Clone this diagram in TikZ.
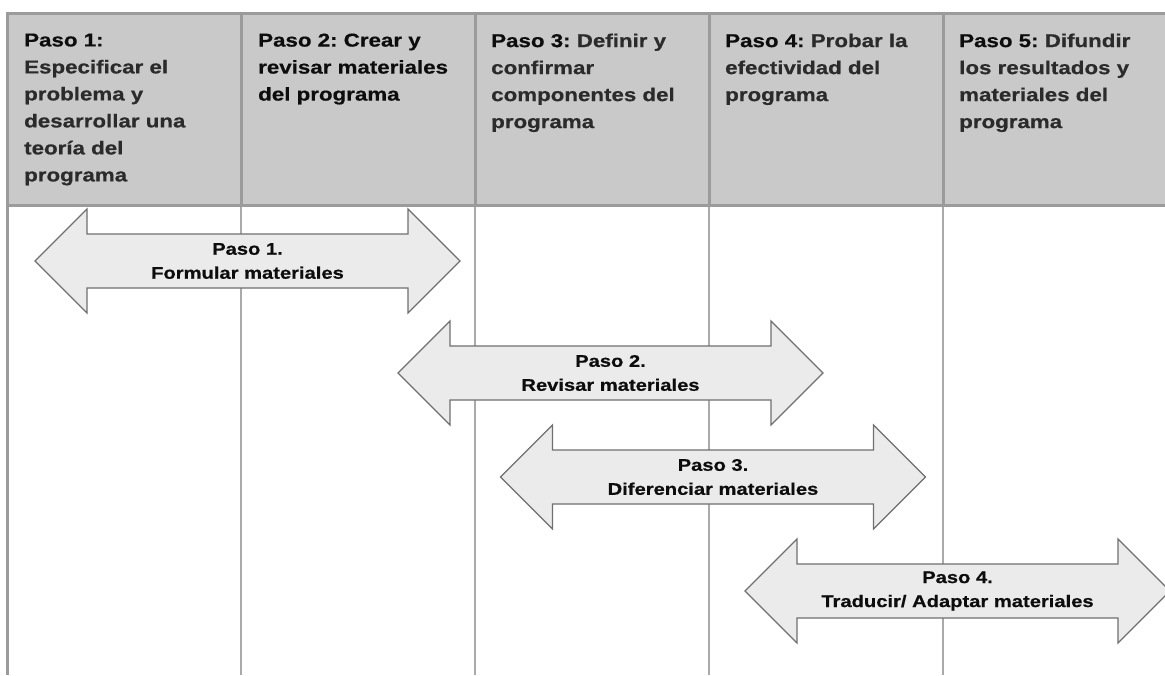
\documentclass[tikz,border=0pt]{standalone}
\usepackage{fontspec}
\setmainfont{Liberation Sans}[FakeStretch=1.2, BoldFeatures={FakeBold=0.6}]
\frenchspacing
\definecolor{hdrfill}{HTML}{C9C9C9}
\definecolor{hdrline}{HTML}{9B9B9B}
\definecolor{gridline}{HTML}{AAAAAA}
\definecolor{arrfill}{HTML}{EBEBEB}
\definecolor{arrline}{HTML}{707070}
\definecolor{txtdark}{HTML}{0D0D0D}
\definecolor{txtgray}{HTML}{2B2B2B}
\tikzset{
  hdrborder/.style={draw=hdrline, line width=3pt},
  gridrule/.style={draw=gridline, line width=1.2pt},
  arrowbox/.style={draw=arrline, fill=arrfill, line width=1.2pt, line join=miter},
  hdrtext/.style={anchor=north west, inner sep=0pt, text width=210pt, align=left,
    font=\fontsize{18.6}{27}\selectfont\bfseries, text=txtgray},
  arrtext/.style={inner sep=0pt, align=center,
    font=\fontsize{16.8}{24}\selectfont\bfseries, text=txtdark},
}
\newcommand\DblArrow[2]{%
  \draw[arrowbox, shift={(#1,#2)}] (-212.5,0) -- (-160.5,-52) -- (-160.5,-27) -- (160.5,-27)
    -- (160.5,-52) -- (212.5,0) -- (160.5,52) -- (160.5,27) -- (-160.5,27) -- (-160.5,52) -- cycle;}
\begin{document}
\begin{tikzpicture}[x=1pt, y=-1pt]
\useasboundingbox (0,0) rectangle (1165,675);
\fill[white] (0,0) rectangle (1165,675);
% header band
\fill[hdrfill] (7,13) rectangle (1165,205);
% grid lines below header
\foreach \gx in {241,475,709,943} {\draw[gridrule] (\gx,205) -- (\gx,675);}
% header borders
\draw[hdrborder] (1165,13) -- (7,13) -- (7,675);
\draw[hdrborder] (7,205) -- (1165,205);
\foreach \gx in {241,475,709,943} {\draw[hdrborder] (\gx,13) -- (\gx,205);}
% header texts
\node[hdrtext] (h1) at (24,33.4) {\textcolor{txtdark}{Paso 1:}\\Especificar el\\problema y\\desarrollar una\\teoría del\\programa};
\node[hdrtext, text=txtdark] (h2) at (258,33.4) {Paso 2: Crear y\\revisar materiales\\del programa};
\node[hdrtext] (h3) at (491,33.4) {\textcolor{txtdark}{Paso 3:} Definir y\\confirmar\\componentes del\\programa};
\node[hdrtext] (h4) at (725,33.4) {\textcolor{txtdark}{Paso 4:} Probar la\\efectividad del\\programa};
\node[hdrtext] (h5) at (959,33.4) {\textcolor{txtdark}{Paso 5:} Difundir\\los resultados y\\materiales del\\programa};
% arrows
\DblArrow{247.5}{261}
\node[arrtext] (a1) at (247.5,261) {Paso 1.\\Formular materiales};
\DblArrow{610.5}{373}
\node[arrtext] (a2) at (610.5,373) {Paso 2.\\Revisar materiales};
\DblArrow{713}{477}
\node[arrtext] (a3) at (713,477) {Paso 3.\\Diferenciar materiales};
\DblArrow{957.5}{591}
\node[arrtext] (a4) at (957.5,591) {Paso 4.\\Traducir/ Adaptar materiales};
\end{tikzpicture}
\end{document}
